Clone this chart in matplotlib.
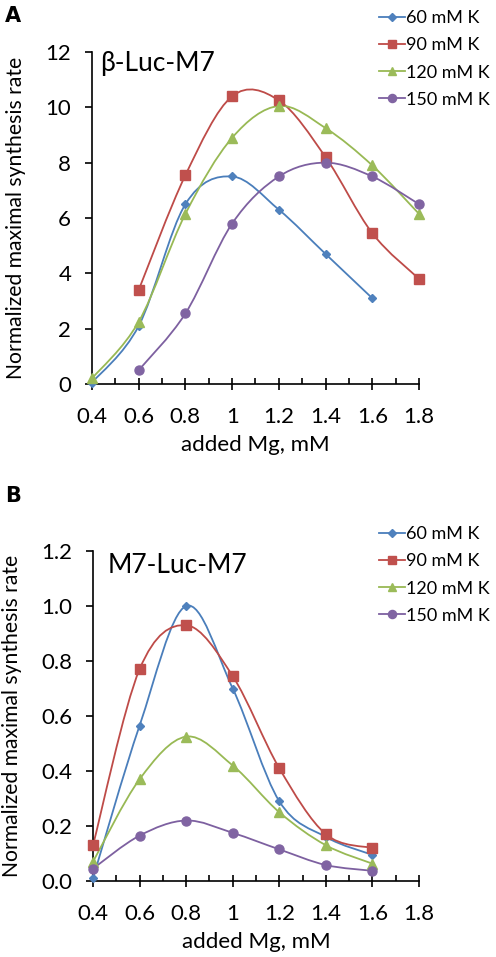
import numpy as np
import matplotlib.pyplot as plt
from matplotlib.path import Path
from matplotlib.patches import PathPatch
from matplotlib.lines import Line2D

plt.rcParams['font.family'] = ['Lato', 'DejaVu Sans']

# panel A: beta-Luc-M7
a_x60 = [0.4, 0.6, 0.8, 1.0, 1.2, 1.4, 1.6]
a_y60 = [0.05, 2.1, 6.5, 7.5, 6.3, 4.7, 3.1]
a_x90 = [0.6, 0.8, 1.0, 1.2, 1.4, 1.6, 1.8]
a_y90 = [3.4, 7.55, 10.4, 10.25, 8.2, 5.45, 3.8]
a_x120 = [0.4, 0.6, 0.8, 1.0, 1.2, 1.4, 1.6, 1.8]
a_y120 = [0.2, 2.25, 6.15, 8.9, 10.05, 9.25, 7.9, 6.15]
a_x150 = [0.6, 0.8, 1.0, 1.2, 1.4, 1.6, 1.8]
a_y150 = [0.5, 2.55, 5.8, 7.5, 8.0, 7.5, 6.5]

# panel B: M7-Luc-M7
b_x = [0.4, 0.6, 0.8, 1.0, 1.2, 1.4, 1.6]
b_y60 = [0.01, 0.565, 1.0, 0.70, 0.29, 0.16, 0.095]
b_y90 = [0.13, 0.77, 0.93, 0.745, 0.41, 0.17, 0.12]
b_y120 = [0.07, 0.37, 0.525, 0.42, 0.25, 0.13, 0.063]
b_y150 = [0.045, 0.165, 0.22, 0.175, 0.115, 0.058, 0.037]

labels = ['60 mM K', '90 mM K', '120 mM K', '150 mM K']
line_colors = ['#4A7EBB', '#BE4B48', '#98B954', '#7D60A0']
mark_colors = ['#4F81BD', '#C0504D', '#9BBB59', '#8064A2']
markers = ['D', 's', '^', 'o']
msizes = [4, 6.5, 6.5, 6.5]

xticks = [0.4, 0.6, 0.8, 1.0, 1.2, 1.4, 1.6, 1.8]
xticklabels = ['0.4', '0.6', '0.8', '1', '1.2', '1.4', '1.6', '1.8']


def smooth(ax, x, y, color):
    # excel-like smoothed line as cubic bezier pieces
    pts = np.column_stack([x, y])
    verts = [pts[0]]
    codes = [Path.MOVETO]
    n = len(pts)
    for i in range(n - 1):
        p0 = pts[i - 1] if i > 0 else pts[i]
        p3 = pts[i + 2] if i + 2 < n else pts[i + 1]
        c1 = pts[i] + (pts[i + 1] - p0) / 6
        c2 = pts[i + 1] - (p3 - pts[i]) / 6
        verts += [c1, c2, pts[i + 1]]
        codes += [Path.CURVE4] * 3
    ax.add_patch(PathPatch(Path(verts, codes), fill=False, edgecolor=color,
                           lw=1.3, zorder=2))


def panel(ax, series, ylim, yticks, yfmt, title, title_xy, leg_y):
    for i, (x, y) in enumerate(series):
        smooth(ax, x, y, line_colors[i])
        ax.plot(x, y, linestyle='none', marker=markers[i], ms=msizes[i],
                color=mark_colors[i], zorder=3, clip_on=False)
    ax.set_xlim(0.4, 1.8)
    ax.set_ylim(*ylim)
    ax.set_xticks(xticks)
    ax.set_xticklabels(xticklabels)
    ax.set_xticks(np.arange(0.5, 1.8, 0.2), minor=True)
    ax.set_yticks(yticks)
    ax.set_yticklabels([yfmt.format(v) for v in yticks])
    for s in ['top', 'right']:
        ax.spines[s].set_visible(False)
    for s in ['left', 'bottom']:
        ax.spines[s].set_linewidth(1.2)
    ax.tick_params(axis='x', which='major', direction='inout', length=9,
                   width=1.2, pad=12, labelsize=16)
    ax.tick_params(axis='x', which='minor', direction='in', length=4,
                   width=1.2)
    ax.tick_params(axis='y', which='major', direction='out', length=5,
                   width=1.2, pad=10, labelsize=16)
    ax.set_xlabel('added Mg, mM', fontsize=16, labelpad=6)
    ax.set_ylabel('Normalized maximal synthesis rate', fontsize=15.2,
                  labelpad=14)
    ax.text(title_xy[0], title_xy[1], title, transform=ax.transAxes,
            fontsize=19, va='center', ha='left')
    handles = [Line2D([0], [0], color=line_colors[i], lw=1.3,
                      marker=markers[i], ms=msizes[i] * 0.9,
                      markerfacecolor=mark_colors[i],
                      markeredgecolor=mark_colors[i]) for i in range(4)]
    fig.legend(handles, labels, loc='upper left',
               bbox_to_anchor=(372 / 496, leg_y), frameon=False,
               fontsize=13, handlelength=1.4, handletextpad=0.1,
               labelspacing=0.62, borderaxespad=0)


fig = plt.figure(figsize=(4.96, 9.57), dpi=100)
ax1 = fig.add_axes([92 / 496, 1 - 384 / 957, 327 / 496, 332 / 957])
ax2 = fig.add_axes([93 / 496, 1 - 881 / 957, 326 / 496, 330 / 957])

panel(ax1, [(a_x60, a_y60), (a_x90, a_y90), (a_x120, a_y120), (a_x150, a_y150)],
      (0, 12), [0, 2, 4, 6, 8, 10, 12], '{:.0f}', '\u03b2-Luc-M7',
      (0.025, 0.965), 1 - 3 / 957)
panel(ax2, [(b_x, b_y60), (b_x, b_y90), (b_x, b_y120), (b_x, b_y150)],
      (0, 1.2), [0, 0.2, 0.4, 0.6, 0.8, 1.0, 1.2], '{:.1f}', 'M7-Luc-M7',
      (0.045, 0.955), 1 - 519 / 957)

fig.text(5 / 496, 1 - 16 / 957, 'A', fontsize=15, fontweight='bold',
         family='DejaVu Sans', va='center')
fig.text(5 / 496, 1 - 496 / 957, 'B', fontsize=15, fontweight='bold',
         family='DejaVu Sans', va='center')

fig.savefig('out.png', dpi=100)
